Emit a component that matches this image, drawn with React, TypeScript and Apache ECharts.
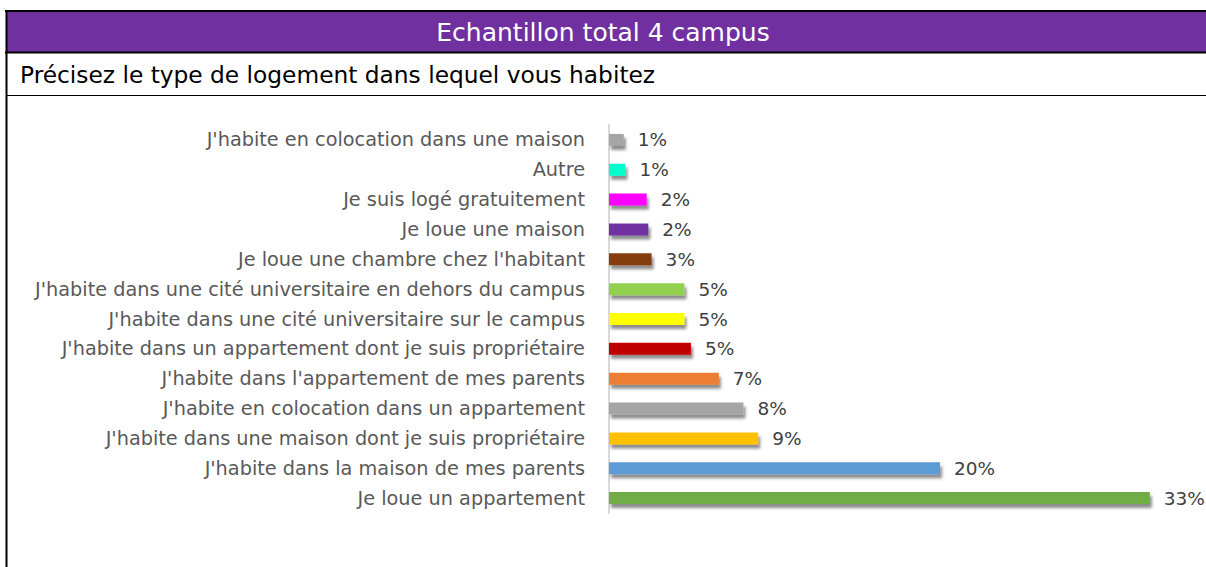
import React, { useEffect, useRef } from "react";
import * as echarts from "echarts";

const categories = [
  "J'habite en colocation dans une maison",
  "Autre",
  "Je suis logé gratuitement",
  "Je loue une maison",
  "Je loue une chambre chez l'habitant",
  "J'habite dans une cité universitaire en dehors du campus",
  "J'habite dans une cité universitaire sur le campus",
  "J'habite dans un appartement dont je suis propriétaire",
  "J'habite dans l'appartement de mes parents",
  "J'habite en colocation dans un appartement",
  "J'habite dans une maison dont je suis propriétaire",
  "J'habite dans la maison de mes parents",
  "Je loue un appartement",
];
const values = [0.9, 1.0, 2.3, 2.4, 2.6, 4.6, 4.6, 5.0, 6.7, 8.2, 9.1, 20.2, 33.0];
const colors = [
  "#A5A5A5", "#00FFCC", "#FF00FF", "#7030A0", "#843C0C", "#92D050", "#FFFF00",
  "#C00000", "#ED7D31", "#A5A5A5", "#FFC000", "#5B9BD5", "#70AD47",
];
const title = "Echantillon total 4 campus";
const subtitle = "Précisez le type de logement dans lequel vous habitez";

export default function App() {
  const ref = useRef<HTMLDivElement>(null);
  useEffect(() => {
    const chart = echarts.init(ref.current!, null, { renderer: "svg" });
    const font = "'DejaVu Sans', sans-serif";
    chart.setOption({
      animation: false,
      backgroundColor: "#ffffff",
      grid: { left: 609, right: 7, top: 125, bottom: 54 },
      xAxis: {
        type: "value",
        min: 0,
        max: 36,
        show: false,
      },
      yAxis: {
        type: "category",
        data: categories,
        inverse: true,
        axisLine: { show: true, lineStyle: { color: "#D9D9D9", width: 2 } },
        axisTick: { show: false },
        axisLabel: { color: "#595959", fontSize: 19.3, fontFamily: font, margin: 24 },
      },
      series: [
        {
          type: "bar",
          data: values.map((v, i) => ({ value: v, itemStyle: { color: colors[i] } })),
          barWidth: 12,
          itemStyle: {
            shadowColor: "rgba(0,0,0,0.45)",
            shadowBlur: 3,
            shadowOffsetX: 2,
            shadowOffsetY: 4,
          },
          label: {
            show: true,
            position: "right",
            distance: 14,
            color: "#404040",
            fontSize: 18.5,
            fontFamily: font,
            formatter: (p: any) => Math.round(p.value) + "%",
          },
        },
      ],
      graphic: [
        { type: "rect", shape: { x: 6, y: 11, width: 1200, height: 41 }, style: { fill: "#7030A0" }, silent: true },
        { type: "line", shape: { x1: 5, y1: 11, x2: 1206, y2: 11 }, style: { stroke: "#000", lineWidth: 2 } },
        { type: "line", shape: { x1: 5, y1: 52.5, x2: 1206, y2: 52.5 }, style: { stroke: "#000", lineWidth: 2 } },
        { type: "line", shape: { x1: 7, y1: 95.5, x2: 1206, y2: 95.5 }, style: { stroke: "#000", lineWidth: 1 } },
        { type: "line", shape: { x1: 6.5, y1: 10, x2: 6.5, y2: 567 }, style: { stroke: "#000", lineWidth: 2 } },
        {
          type: "text",
          x: 603,
          y: 32,
          style: { text: title, fill: "#ffffff", fontSize: 25, fontFamily: font, align: "center", verticalAlign: "middle" },
        },
        {
          type: "text",
          x: 20,
          y: 74,
          style: { text: subtitle, fill: "#000000", fontSize: 23.3, fontFamily: font, align: "left", verticalAlign: "middle" },
        },
      ],
    });
    return () => chart.dispose();
  }, []);
  return <div ref={ref} style={{ position: "fixed", left: 0, top: 0, width: 1206, height: 567 }} />;
}
